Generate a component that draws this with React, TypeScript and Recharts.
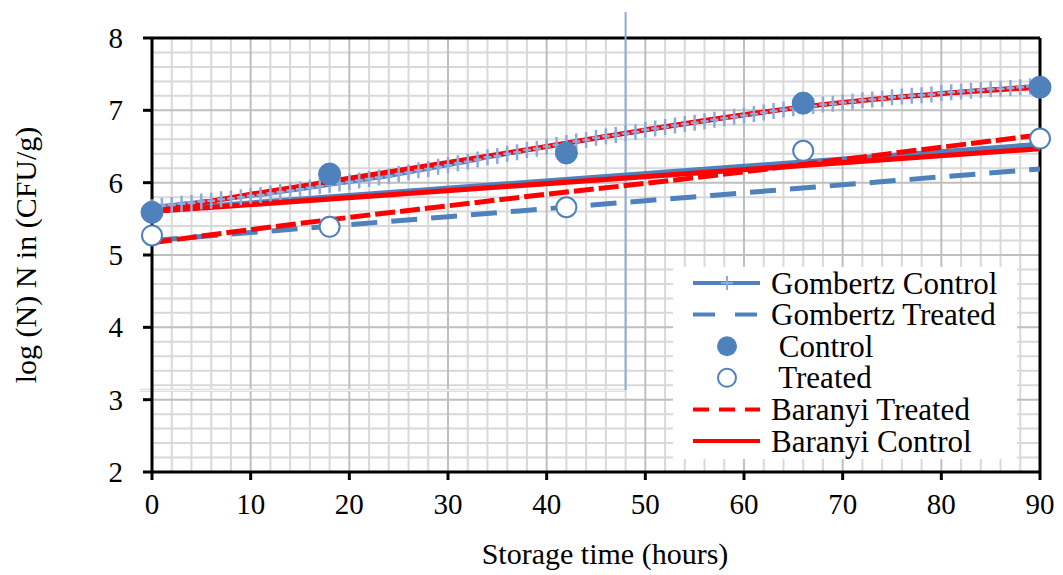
import {
  ComposedChart,
  Line,
  XAxis,
  YAxis,
  ReferenceLine,
  Legend,
} from "recharts";

const FONT = '"Liberation Serif", "Times New Roman", serif';

const BLUE = "#4f81bd";
const LIGHT_BLUE = "#8eaadb";
const RED = "#ff0000";

// observed counts
const sampleHours = [0, 18, 42, 66, 90];
const controlObserved = [5.59, 6.12, 6.41, 7.1, 7.32];
const treatedObserved = [5.27, 5.39, 5.66, 6.44, 6.61];

// fitted curves, every 10 h
const fitHours = [0, 10, 20, 30, 40, 50, 60, 70, 80, 90];
const baranyiControl = [5.6, 5.84, 6.06, 6.28, 6.5, 6.73, 6.94, 7.11, 7.23, 7.32];
const baranyiTreated = [5.17, 5.35, 5.52, 5.68, 5.84, 5.99, 6.15, 6.32, 6.49, 6.66];
const gombertzTreated = [5.2, 5.31, 5.42, 5.53, 5.64, 5.75, 5.86, 5.97, 6.08, 6.19];

// straight control fits (not in legend)
const trendHours = [0, 90];
const controlTrendBlue = [5.62, 6.53];
const controlTrendRed = [5.6, 6.47];

// Gombertz control, hourly
const gombertzControl = [
  5.66, 5.68, 5.69, 5.71, 5.72, 5.74, 5.75, 5.77, 5.78, 5.8,
  5.82, 5.83, 5.85, 5.87, 5.89, 5.91, 5.93, 5.95, 5.97, 5.99,
  6.01, 6.03, 6.05, 6.07, 6.09, 6.12, 6.14, 6.17, 6.19, 6.22,
  6.24, 6.27, 6.29, 6.32, 6.35, 6.37, 6.4, 6.42, 6.45, 6.47,
  6.5, 6.52, 6.55, 6.57, 6.59, 6.62, 6.64, 6.66, 6.68, 6.7,
  6.73, 6.75, 6.77, 6.79, 6.81, 6.83, 6.85, 6.87, 6.89, 6.91,
  6.93, 6.95, 6.97, 6.99, 7.01, 7.03, 7.05, 7.06, 7.08, 7.09,
  7.11, 7.12, 7.14, 7.15, 7.16, 7.18, 7.19, 7.2, 7.21, 7.22,
  7.24, 7.25, 7.26, 7.27, 7.28, 7.29, 7.3, 7.31, 7.32, 7.33,
  7.34,
];

const xTicks = [0, 10, 20, 30, 40, 50, 60, 70, 80, 90];
const yTicks = [2, 3, 4, 5, 6, 7, 8];

const toPoints = (xs: number[], ys: number[]) =>
  ys.map((y, i) => ({ x: xs[i], y }));

const controlPts = toPoints(sampleHours, controlObserved);
const treatedPts = toPoints(sampleHours, treatedObserved);
const baranyiControlPts = toPoints(fitHours, baranyiControl);
const baranyiTreatedPts = toPoints(fitHours, baranyiTreated);
const gombertzTreatedPts = toPoints(fitHours, gombertzTreated);
const trendBluePts = toPoints(trendHours, controlTrendBlue);
const trendRedPts = toPoints(trendHours, controlTrendRed);
const gombertzControlPts = gombertzControl.map((y, i) => ({ x: i, y }));

// grid: minor every 2 h / 0.2 log, major every 10 h / 1 log
const minorX = Array.from({ length: 44 }, (_, i) => 2 + i * 2).filter(
  (v) => v % 10 !== 0
);
const majorX = [10, 20, 30, 40, 50, 60, 70, 80];
const minorY = Array.from({ length: 29 }, (_, i) => +(2.2 + i * 0.2).toFixed(1)).filter(
  (v) => Math.abs(v - Math.round(v)) > 0.01
);
const majorY = [3, 4, 5, 6, 7];

const renderPlus = (props: any) => {
  const { cx, cy, index } = props;
  if (cx == null || cy == null) return <g key={`p-${index}`} />;
  return (
    <path
      key={`p-${index}`}
      d={`M${cx},${cy - 8}V${cy + 8}M${cx - 4},${cy}H${cx + 4}`}
      stroke={LIGHT_BLUE}
      strokeWidth={2.5}
      fill="none"
    />
  );
};

const XTick = (props: any) => {
  const { x, y, payload } = props;
  return (
    <text
      x={x}
      y={y + 20}
      textAnchor="middle"
      dominantBaseline="central"
      fontFamily={FONT}
      fontSize={29}
      fill="#000"
    >
      {payload.value}
    </text>
  );
};

const YTick = (props: any) => {
  const { x, y, payload } = props;
  return (
    <text
      x={x - 4}
      y={y}
      textAnchor="end"
      dominantBaseline="central"
      fontFamily={FONT}
      fontSize={29}
      fill="#000"
    >
      {payload.value}
    </text>
  );
};

const legendRows = [
  { label: "Gombertz Control", kind: "plus" },
  { label: "Gombertz Treated", kind: "blueDash" },
  { label: " Control", kind: "filled" },
  { label: " Treated", kind: "open" },
  { label: "Baranyi Treated", kind: "redDash" },
  { label: "Baranyi Control", kind: "red" },
];

const LegendBox = () => (
  <svg width={344} height={192} style={{ overflow: "visible", display: "block" }}>
    {legendRows.map((row, i) => {
      const cy = 16 + i * 31.6;
      let symbol = null;
      if (row.kind === "plus") {
        symbol = (
          <g>
            <line x1={20} x2={87} y1={cy} y2={cy} stroke={BLUE} strokeWidth={4} />
            <path d={`M54,${cy - 7}V${cy + 7}M48,${cy}H60`} stroke={LIGHT_BLUE} strokeWidth={2} />
          </g>
        );
      } else if (row.kind === "blueDash") {
        symbol = (
          <line x1={20} x2={87} y1={cy} y2={cy} stroke={BLUE} strokeWidth={4} strokeDasharray="22 20" />
        );
      } else if (row.kind === "filled") {
        symbol = <circle cx={54} cy={cy} r={10} fill={BLUE} />;
      } else if (row.kind === "open") {
        symbol = <circle cx={54} cy={cy} r={9} fill="#fff" stroke={BLUE} strokeWidth={2} />;
      } else if (row.kind === "redDash") {
        symbol = (
          <line x1={20} x2={87} y1={cy} y2={cy} stroke={RED} strokeWidth={4} strokeDasharray="16 10" />
        );
      } else {
        symbol = <line x1={20} x2={87} y1={cy} y2={cy} stroke={RED} strokeWidth={4} />;
      }
      return (
        <g key={row.label}>
          {symbol}
          <text
            x={98}
            y={cy}
            dominantBaseline="central"
            fontFamily={FONT}
            fontSize={31}
            fill="#000"
            style={{ whiteSpace: "pre" }}
          >
            {row.label}
          </text>
        </g>
      );
    })}
  </svg>
);

const YTitle = (props: any) => {
  const { viewBox } = props;
  const x = viewBox.x - 67;
  const y = viewBox.y + viewBox.height / 2;
  return (
    <text
      x={x}
      y={y}
      transform={`rotate(-90, ${x}, ${y})`}
      textAnchor="middle"
      dominantBaseline="central"
      fontFamily={FONT}
      fontSize={30}
      fill="#000"
    >
      log (N) N in (CFU/g)
    </text>
  );
};

const XTitle = (props: any) => {
  const { viewBox } = props;
  const x = viewBox.x + viewBox.width / 2 + 9;
  const y = viewBox.y + 81;
  return (
    <text
      x={x}
      y={y}
      textAnchor="middle"
      dominantBaseline="central"
      fontFamily={FONT}
      fontSize={30}
      fill="#000"
    >
      Storage time (hours)
    </text>
  );
};

export default function App() {
  return (
    <div style={{ position: "absolute", left: 0, top: 0, background: "#fff" }}>
      <ComposedChart
        width={1063}
        height={575}
        margin={{ top: 38, right: 23, bottom: 43, left: 92 }}
      >
        <XAxis
          dataKey="x"
          type="number"
          domain={[0, 90]}
          ticks={xTicks}
          allowDuplicatedCategory={false}
          height={60}
          tickSize={8}
          tickMargin={4}
          tick={XTick}
          axisLine={{ stroke: "#000", strokeWidth: 3 }}
          tickLine={{ stroke: "#000", strokeWidth: 3 }}
          label={{ content: XTitle }}
        />
        <YAxis
          type="number"
          domain={[2, 8]}
          ticks={yTicks}
          width={60}
          tickSize={9}
          tickMargin={16}
          tick={YTick}
          axisLine={{ stroke: "#000", strokeWidth: 3 }}
          tickLine={{ stroke: "#000", strokeWidth: 3 }}
          label={{ content: YTitle }}
        />

        {minorX.map((v) => (
          <ReferenceLine key={`mx${v}`} x={v} stroke="#d9d9d9" strokeWidth={2} />
        ))}
        {minorY.map((v) => (
          <ReferenceLine key={`my${v}`} y={v} stroke="#d9d9d9" strokeWidth={2} />
        ))}
        {majorX.map((v) => (
          <ReferenceLine key={`Mx${v}`} x={v} stroke="#bfbfbf" strokeWidth={2} />
        ))}
        {majorY.map((v) => (
          <ReferenceLine key={`My${v}`} y={v} stroke="#bfbfbf" strokeWidth={2} />
        ))}
        <ReferenceLine y={8} stroke="#000" strokeWidth={3} />
        <ReferenceLine x={90} stroke="#000" strokeWidth={3} />

        {/* stray guide lines */}
        <ReferenceLine
          segment={[{ x: -1.2, y: 3.13 }, { x: 48, y: 3.13 }]}
          ifOverflow="visible"
          stroke="#d4d4d4"
          strokeWidth={3}
        />
        <ReferenceLine
          segment={[{ x: -1.2, y: 3.13 }, { x: 48, y: 3.13 }]}
          ifOverflow="visible"
          stroke="#ffffff"
          strokeWidth={1}
        />
        <ReferenceLine
          segment={[{ x: 48, y: 3.13 }, { x: 48, y: 8.36 }]}
          ifOverflow="visible"
          stroke={LIGHT_BLUE}
          strokeWidth={2}
        />

        <Line
          data={gombertzControlPts}
          dataKey="y"
          name="Gombertz Control"
          type="monotone"
          stroke={BLUE}
          strokeWidth={4}
          dot={renderPlus}
          activeDot={false}
          isAnimationActive={false}
        />
        <Line
          data={trendBluePts}
          dataKey="y"
          name="Control trend"
          type="linear"
          stroke={BLUE}
          strokeWidth={5}
          dot={false}
          activeDot={false}
          legendType="none"
          isAnimationActive={false}
        />
        <Line
          data={gombertzTreatedPts}
          dataKey="y"
          name="Gombertz Treated"
          type="monotone"
          stroke={BLUE}
          strokeWidth={5}
          strokeDasharray="26 14"
          dot={false}
          activeDot={false}
          isAnimationActive={false}
        />
        <Line
          data={baranyiTreatedPts}
          dataKey="y"
          name="Baranyi Treated"
          type="monotone"
          stroke={RED}
          strokeWidth={5}
          strokeDasharray="20 5"
          dot={false}
          activeDot={false}
          isAnimationActive={false}
        />
        <Line
          data={trendRedPts}
          dataKey="y"
          name="Control fit"
          type="linear"
          stroke={RED}
          strokeWidth={5}
          dot={false}
          activeDot={false}
          legendType="none"
          isAnimationActive={false}
        />
        <Line
          data={baranyiControlPts}
          dataKey="y"
          name="Baranyi Control"
          type="monotone"
          stroke={RED}
          strokeWidth={5}
          dot={false}
          activeDot={false}
          isAnimationActive={false}
        />
        <Line
          data={controlPts}
          dataKey="y"
          name="Control"
          stroke="none"
          dot={{ r: 11, fill: BLUE, stroke: BLUE, strokeWidth: 1 }}
          activeDot={false}
          isAnimationActive={false}
        />
        <Line
          data={treatedPts}
          dataKey="y"
          name="Treated"
          stroke="none"
          dot={{ r: 10, fill: "#fff", stroke: BLUE, strokeWidth: 2 }}
          activeDot={false}
          isAnimationActive={false}
        />

        <Legend
          layout="horizontal"
          align="center"
          verticalAlign="middle"
          content={LegendBox}
          wrapperStyle={{
            left: 673,
            top: 267,
            width: 344,
            height: 192,
            background: "#fff",
          }}
        />
      </ComposedChart>
    </div>
  );
}
